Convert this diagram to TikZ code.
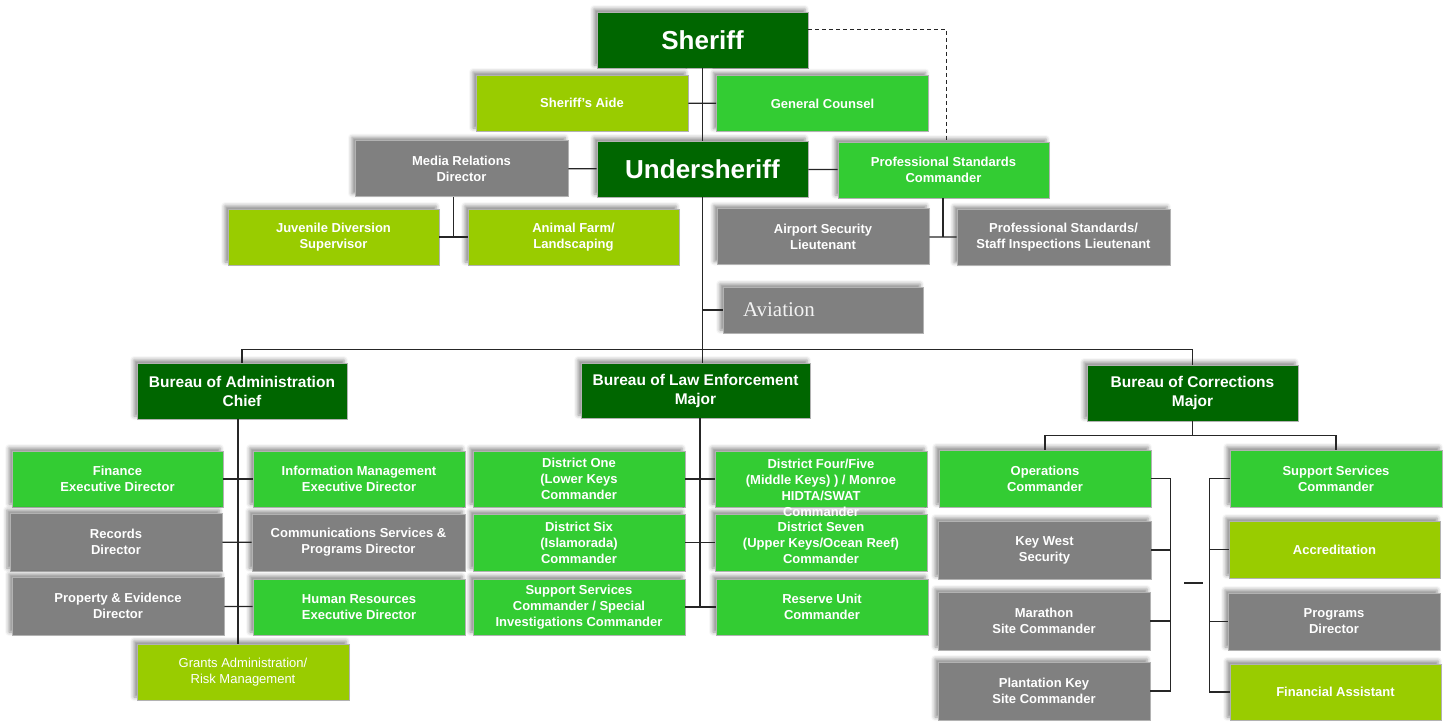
\documentclass[tikz,border=0pt]{standalone}
\usepackage{fontspec}
\setmainfont{Liberation Sans}
\newfontfamily\serifface{Liberation Serif}
\usetikzlibrary{calc,shadows.blur}

\definecolor{chiefgreen}{RGB}{0,102,0}
\definecolor{unitgreen}{RGB}{51,204,51}
\definecolor{limegreen}{RGB}{153,204,0}
\definecolor{staffgray}{RGB}{128,128,128}

\begin{document}
\begin{tikzpicture}[x=1pt, y=-1pt, line width=1.2pt,
    box/.style={draw=black!30, line width=0.8pt, text=white, align=center,
      inner sep=0pt, minimum width=212pt, minimum height=56pt,
      font=\bfseries\fontsize{13}{16}\selectfont,
      blur shadow={shadow xshift=-3pt, shadow yshift=3pt,
        shadow blur radius=4pt, shadow opacity=45}},
    chief/.style={box, fill=chiefgreen},
    unit/.style={box, fill=unitgreen},
    lime/.style={box, fill=limegreen},
    staff/.style={box, fill=staffgray},
    bigname/.style={font=\bfseries\fontsize{26}{30}\selectfont},
    bureau/.style={font=\bfseries\fontsize{15.5}{19}\selectfont},
    link/.style={draw=black!85, line width=1.3pt}]
    \useasboundingbox (0,0) rectangle (1451,721);

    % Command staff
    \node[chief, bigname, minimum width=211pt] (sheriff) at (702.5,40) {Sheriff};
    \node[lime] (aide) at (582,103) {Sheriff's Aide};
    \node[unit] (counsel) at (822.5,103.5) {General Counsel};
    \node[staff, minimum width=213pt] (media) at (461.5,168.5) {Media Relations\\Director};
    \node[chief, bigname, minimum width=211pt] (under) at (702.5,169) {Undersheriff};
    \node[unit, minimum width=211pt] (profstd) at (943.5,170) {Professional Standards\\Commander};
    \node[lime, minimum width=211pt] (juvenile) at (333.5,237) {Juvenile Diversion\\Supervisor};
    \node[lime, minimum width=211pt] (animal) at (573.5,237) {Animal Farm/\\Landscaping};
    \node[staff] (airport) at (823,236.5) {Airport Security\\Lieutenant};
    \node[staff, minimum width=213pt] (staffinsp) at (1063.5,237.5) {Professional Standards/\\Staff Inspections Lieutenant};
    \node[staff, minimum width=200pt, minimum height=46pt, text width=160pt,
      align=left, text=black!5, font=\serifface\fontsize{21}{24}\selectfont]
      (aviation) at (823,310) {Aviation};

    % Bureaus
    \node[chief, bureau, minimum width=210pt] (admin) at (242,391) {Bureau of Administration\\Chief};
    \node[chief, bureau, minimum width=229pt, minimum height=55pt] (lawenf) at (695.5,390.5) {Bureau of Law Enforcement\\Major};
    \node[chief, bureau, minimum width=211pt] (corr) at (1192.5,393) {Bureau of Corrections\\Major};

    % Administration units
    \node[unit, minimum width=211pt] (finance) at (117.5,479) {Finance\\Executive Director};
    \node[staff, minimum height=58pt] (records) at (116,542) {Records\\Director};
    \node[staff, minimum height=58pt] (property) at (118,606) {Property \& Evidence\\Director};
    \node[unit] (infomgmt) at (359,479) {Information Management\\Executive Director};
    \node[staff, minimum width=213pt, minimum height=57pt] (comms) at (358.5,542.5) {Communications Services \&\\Programs Director};
    \node[unit] (hr) at (359,607) {Human Resources\\Executive Director};
    \node[lime, font=\fontsize{13}{16}\selectfont] (grants) at (243,672) {Grants Administration/\\Risk Management};

    % Law enforcement units
    \node[unit] (d1) at (579,479) {District One\\(Lower Keys\\Commander};
    \node[unit, minimum height=57pt] (d6) at (579,542.5) {District Six\\(Islamorada)\\Commander};
    \node[unit] (supcmd) at (579,607) {Support Services\\Commander / Special\\Investigations Commander};
    \node[unit] (d45) at (821,479) {};
    \node[unit, minimum height=57pt] (d7) at (821,542.5) {District Seven\\(Upper Keys/Ocean Reef)\\Commander};
    \node[unit] (reserve) at (822,607) {Reserve Unit\\Commander};
    \node[text=white, align=center, font=\bfseries\fontsize{13}{16}\selectfont]
      (d45txt) at ([yshift=-9pt]d45.center) {District Four/Five\\(Middle Keys) ) / Monroe\\HIDTA/SWAT\\Commander};

    % Corrections units
    \node[unit, minimum height=57pt] (ops) at (1045,478.5) {Operations\\Commander};
    \node[staff, minimum width=213pt, minimum height=58pt] (keywest) at (1044.5,550) {Key West\\Security};
    \node[staff, minimum height=58pt] (marathon) at (1044,621) {Marathon\\Site Commander};
    \node[staff, minimum height=58pt] (plantation) at (1044,691) {Plantation Key\\Site Commander};
    \node[unit, minimum height=57pt] (supsvc) at (1336,478.5) {Support Services\\Commander};
    \node[lime, minimum width=211pt, minimum height=57pt] (accred) at (1334.5,549.5) {Accreditation};
    \node[staff, minimum height=57pt] (programs) at (1334,621.5) {Programs\\Director};
    \node[lime, minimum width=211pt] (finasst) at (1335.5,692) {Financial Assistant};

    % Top connectors
    \draw[link] (sheriff) -- (under);
    \draw[link] (aide) -- (counsel);
    \draw[link] (media) -- (under);
    \draw[link] (under) -- (profstd);
    \draw[link, line width=1pt, dash pattern=on 4pt off 3pt] ([yshift=11pt]sheriff.east) -| ([xshift=3pt]profstd.north);
    \coordinate (mfork) at ($(juvenile.east)!0.5!(animal.west)$);
    \draw[link] (mfork |- media.south) -- (mfork);
    \draw[link] (juvenile) -- (animal);
    \coordinate (pfork) at ($(airport.east)!0.5!(staffinsp.west)$);
    \draw[link] (pfork |- profstd.south) -- (pfork);
    \draw[link] (airport) -- (staffinsp);
    \draw[link] (under.south) -- (under.south |- lawenf.north);
    \draw[link] (aviation.west) -- (aviation.west -| under.south);

    % Bureau bus
    \draw[link] (admin.north) -- ++(0,-13) -| (corr.north);

    % Administration spine
    \coordinate (aspine) at ($(finance.east)!0.5!(infomgmt.west)$);
    \draw[link] (aspine |- admin.south) -- (aspine |- grants.north);
    \draw[link] (finance) -- (infomgmt);
    \draw[link] (records) -- (comms);
    \draw[link] (property) -- (hr);

    % Law enforcement spine
    \coordinate (lspine) at ($(d1.east)!0.5!(d45.west)$);
    \draw[link] (lspine |- lawenf.south) -- (lspine |- supcmd.east);
    \draw[link] (d1) -- (d45);
    \draw[link] (d6) -- (d7);
    \draw[link] (supcmd) -- (reserve);

    % Corrections brackets
    \coordinate (cbar) at ([yshift=-14pt]corr.south);
    \draw[link] (corr.south) -- (cbar);
    \draw[link] (ops.north) |- (cbar) -| (supsvc.north);
    \coordinate (lbr) at ([xshift=19pt]ops.east);
    \draw[link] (ops.east) -- (lbr) -- (lbr |- plantation.east) -- (plantation.east);
    \draw[link] (keywest.east) -- (keywest.east -| lbr);
    \draw[link] (marathon.east) -- (marathon.east -| lbr);
    \coordinate (rbr) at ([xshift=-20pt]supsvc.west);
    \draw[link] (supsvc.west) -- (rbr) -- (rbr |- finasst.west) -- (finasst.west);
    \draw[link] (accred.west) -- (accred.west -| rbr);
    \draw[link] (programs.west) -- (programs.west -| rbr);
    \draw[link] (1184,583) -- (1203,583);
\end{tikzpicture}
\end{document}
